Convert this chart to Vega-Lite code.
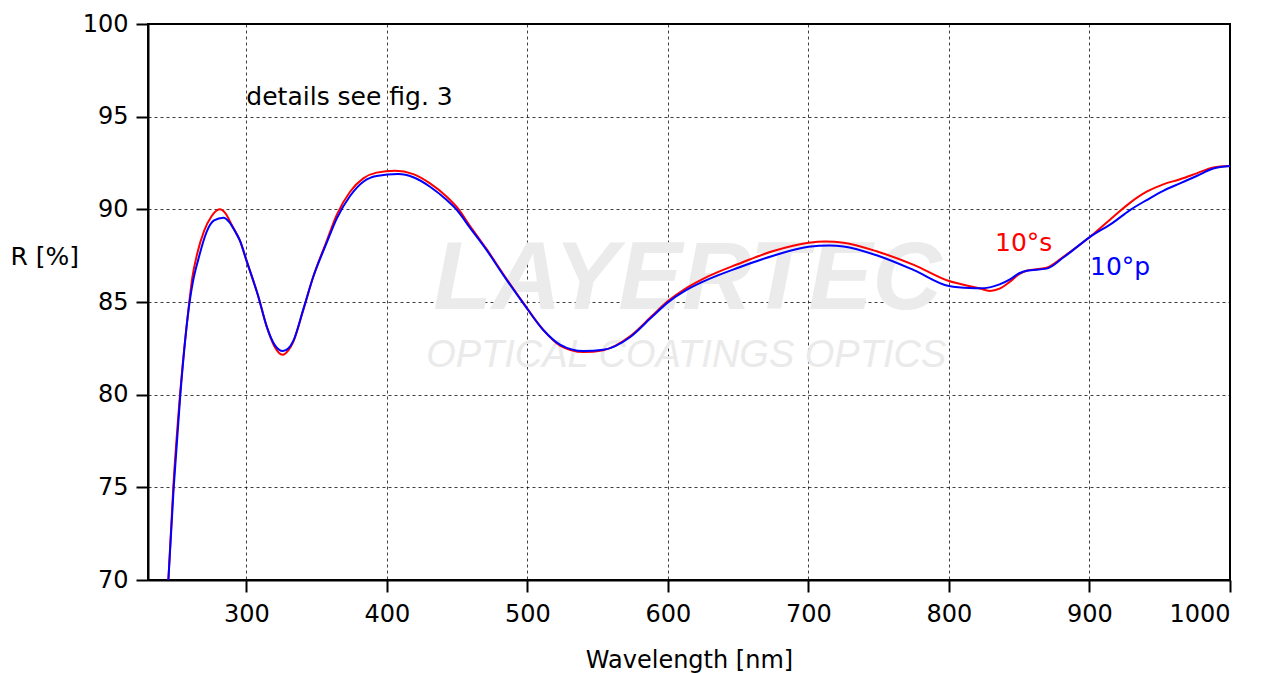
{
  "$schema": "https://vega.github.io/schema/vega-lite/v6.json",
  "width": 1082,
  "height": 556,
  "autosize": {"type": "none"},
  "padding": {"left": 148, "top": 24, "right": 45, "bottom": 93},
  "background": "white",
  "config": {
    "view": {"stroke": "black", "strokeWidth": 2},
    "font": "DejaVu Sans",
    "axis": {
      "labelFont": "DejaVu Sans", "labelFontSize": 24, "labelColor": "black",
      "titleFont": "DejaVu Sans", "titleFontSize": 24, "titleFontWeight": "normal", "titleColor": "black",
      "tickColor": "black", "tickSize": 12, "tickWidth": 2,
      "domainColor": "black", "domainWidth": 2,
      "grid": true, "gridColor": "black", "gridDash": [3, 3], "gridOpacity": 0.75, "gridWidth": 1
    }
  },
  "datasets": {
    "curves": [
      {"wl": 244.5, "R": 70, "pol": "10°s"},
      {"wl": 248, "R": 75, "pol": "10°s"},
      {"wl": 252.8, "R": 80, "pol": "10°s"},
      {"wl": 259.4, "R": 85, "pol": "10°s"},
      {"wl": 261.5, "R": 86.3, "pol": "10°s"},
      {"wl": 265, "R": 87.6, "pol": "10°s"},
      {"wl": 270, "R": 88.85, "pol": "10°s"},
      {"wl": 275, "R": 89.6, "pol": "10°s"},
      {"wl": 281, "R": 90.0, "pol": "10°s"},
      {"wl": 285, "R": 89.8, "pol": "10°s"},
      {"wl": 290, "R": 89.1, "pol": "10°s"},
      {"wl": 295.5, "R": 88.3, "pol": "10°s"},
      {"wl": 300, "R": 87.26, "pol": "10°s"},
      {"wl": 308.5, "R": 85.3, "pol": "10°s"},
      {"wl": 314.5, "R": 83.67, "pol": "10°s"},
      {"wl": 320, "R": 82.6, "pol": "10°s"},
      {"wl": 325.8, "R": 82.15, "pol": "10°s"},
      {"wl": 330, "R": 82.4, "pol": "10°s"},
      {"wl": 333.4, "R": 82.85, "pol": "10°s"},
      {"wl": 340.5, "R": 84.57, "pol": "10°s"},
      {"wl": 347.6, "R": 86.36, "pol": "10°s"},
      {"wl": 357.2, "R": 88.3, "pol": "10°s"},
      {"wl": 364.3, "R": 89.7, "pol": "10°s"},
      {"wl": 373.8, "R": 90.95, "pol": "10°s"},
      {"wl": 383.2, "R": 91.67, "pol": "10°s"},
      {"wl": 392.7, "R": 91.98, "pol": "10°s"},
      {"wl": 405.8, "R": 92.08, "pol": "10°s"},
      {"wl": 418.8, "R": 91.9, "pol": "10°s"},
      {"wl": 430.7, "R": 91.4, "pol": "10°s"},
      {"wl": 442.6, "R": 90.68, "pol": "10°s"},
      {"wl": 450, "R": 90.1, "pol": "10°s"},
      {"wl": 459.2, "R": 89.1, "pol": "10°s"},
      {"wl": 471, "R": 87.85, "pol": "10°s"},
      {"wl": 482.9, "R": 86.5, "pol": "10°s"},
      {"wl": 497.1, "R": 84.95, "pol": "10°s"},
      {"wl": 511.3, "R": 83.5, "pol": "10°s"},
      {"wl": 523.2, "R": 82.65, "pol": "10°s"},
      {"wl": 539.8, "R": 82.3, "pol": "10°s"},
      {"wl": 554, "R": 82.4, "pol": "10°s"},
      {"wl": 573, "R": 83.15, "pol": "10°s"},
      {"wl": 588, "R": 84.2, "pol": "10°s"},
      {"wl": 600, "R": 85.05, "pol": "10°s"},
      {"wl": 612, "R": 85.7, "pol": "10°s"},
      {"wl": 625, "R": 86.25, "pol": "10°s"},
      {"wl": 650, "R": 87.05, "pol": "10°s"},
      {"wl": 675, "R": 87.75, "pol": "10°s"},
      {"wl": 700, "R": 88.2, "pol": "10°s"},
      {"wl": 712, "R": 88.27, "pol": "10°s"},
      {"wl": 725, "R": 88.2, "pol": "10°s"},
      {"wl": 750, "R": 87.7, "pol": "10°s"},
      {"wl": 775, "R": 87.0, "pol": "10°s"},
      {"wl": 800, "R": 86.13, "pol": "10°s"},
      {"wl": 815, "R": 85.85, "pol": "10°s"},
      {"wl": 822, "R": 85.73, "pol": "10°s"},
      {"wl": 829, "R": 85.6, "pol": "10°s"},
      {"wl": 836, "R": 85.72, "pol": "10°s"},
      {"wl": 843.4, "R": 86.1, "pol": "10°s"},
      {"wl": 850, "R": 86.5, "pol": "10°s"},
      {"wl": 855.3, "R": 86.69, "pol": "10°s"},
      {"wl": 869.5, "R": 86.85, "pol": "10°s"},
      {"wl": 881.4, "R": 87.44, "pol": "10°s"},
      {"wl": 900, "R": 88.49, "pol": "10°s"},
      {"wl": 917, "R": 89.6, "pol": "10°s"},
      {"wl": 928.8, "R": 90.35, "pol": "10°s"},
      {"wl": 940.7, "R": 90.95, "pol": "10°s"},
      {"wl": 952.5, "R": 91.35, "pol": "10°s"},
      {"wl": 964.4, "R": 91.62, "pol": "10°s"},
      {"wl": 976.3, "R": 91.94, "pol": "10°s"},
      {"wl": 988.1, "R": 92.26, "pol": "10°s"},
      {"wl": 1000, "R": 92.34, "pol": "10°s"},
      {"wl": 244.5, "R": 70, "pol": "10°p"},
      {"wl": 248.3, "R": 75, "pol": "10°p"},
      {"wl": 253, "R": 80, "pol": "10°p"},
      {"wl": 259.6, "R": 85, "pol": "10°p"},
      {"wl": 262, "R": 86.1, "pol": "10°p"},
      {"wl": 265.8, "R": 87.3, "pol": "10°p"},
      {"wl": 271.8, "R": 88.8, "pol": "10°p"},
      {"wl": 277, "R": 89.4, "pol": "10°p"},
      {"wl": 283.6, "R": 89.55, "pol": "10°p"},
      {"wl": 288, "R": 89.3, "pol": "10°p"},
      {"wl": 292, "R": 88.8, "pol": "10°p"},
      {"wl": 295.5, "R": 88.3, "pol": "10°p"},
      {"wl": 300, "R": 87.26, "pol": "10°p"},
      {"wl": 308.5, "R": 85.3, "pol": "10°p"},
      {"wl": 314.5, "R": 83.67, "pol": "10°p"},
      {"wl": 320, "R": 82.7, "pol": "10°p"},
      {"wl": 326, "R": 82.35, "pol": "10°p"},
      {"wl": 330, "R": 82.5, "pol": "10°p"},
      {"wl": 333.4, "R": 82.9, "pol": "10°p"},
      {"wl": 340.5, "R": 84.6, "pol": "10°p"},
      {"wl": 347.6, "R": 86.36, "pol": "10°p"},
      {"wl": 357.2, "R": 88.2, "pol": "10°p"},
      {"wl": 364.3, "R": 89.5, "pol": "10°p"},
      {"wl": 373.8, "R": 90.72, "pol": "10°p"},
      {"wl": 383.2, "R": 91.49, "pol": "10°p"},
      {"wl": 392.7, "R": 91.8, "pol": "10°p"},
      {"wl": 408, "R": 91.9, "pol": "10°p"},
      {"wl": 418.8, "R": 91.73, "pol": "10°p"},
      {"wl": 430.7, "R": 91.22, "pol": "10°p"},
      {"wl": 442.6, "R": 90.5, "pol": "10°p"},
      {"wl": 450, "R": 89.95, "pol": "10°p"},
      {"wl": 459.2, "R": 89.0, "pol": "10°p"},
      {"wl": 471, "R": 87.8, "pol": "10°p"},
      {"wl": 482.9, "R": 86.45, "pol": "10°p"},
      {"wl": 497.1, "R": 84.93, "pol": "10°p"},
      {"wl": 511.3, "R": 83.49, "pol": "10°p"},
      {"wl": 523.2, "R": 82.7, "pol": "10°p"},
      {"wl": 539.8, "R": 82.35, "pol": "10°p"},
      {"wl": 554, "R": 82.42, "pol": "10°p"},
      {"wl": 573, "R": 83.1, "pol": "10°p"},
      {"wl": 588, "R": 84.15, "pol": "10°p"},
      {"wl": 600, "R": 84.98, "pol": "10°p"},
      {"wl": 612, "R": 85.6, "pol": "10°p"},
      {"wl": 625, "R": 86.1, "pol": "10°p"},
      {"wl": 650, "R": 86.85, "pol": "10°p"},
      {"wl": 675, "R": 87.5, "pol": "10°p"},
      {"wl": 700, "R": 87.98, "pol": "10°p"},
      {"wl": 715, "R": 88.05, "pol": "10°p"},
      {"wl": 725, "R": 88.0, "pol": "10°p"},
      {"wl": 750, "R": 87.48, "pol": "10°p"},
      {"wl": 775, "R": 86.72, "pol": "10°p"},
      {"wl": 800, "R": 85.86, "pol": "10°p"},
      {"wl": 815, "R": 85.75, "pol": "10°p"},
      {"wl": 822, "R": 85.74, "pol": "10°p"},
      {"wl": 829, "R": 85.79, "pol": "10°p"},
      {"wl": 836, "R": 85.95, "pol": "10°p"},
      {"wl": 843.4, "R": 86.22, "pol": "10°p"},
      {"wl": 850, "R": 86.55, "pol": "10°p"},
      {"wl": 855.3, "R": 86.69, "pol": "10°p"},
      {"wl": 869.5, "R": 86.8, "pol": "10°p"},
      {"wl": 881.4, "R": 87.4, "pol": "10°p"},
      {"wl": 900, "R": 88.49, "pol": "10°p"},
      {"wl": 917, "R": 89.3, "pol": "10°p"},
      {"wl": 928.8, "R": 89.96, "pol": "10°p"},
      {"wl": 940.7, "R": 90.5, "pol": "10°p"},
      {"wl": 952.5, "R": 91.0, "pol": "10°p"},
      {"wl": 964.4, "R": 91.4, "pol": "10°p"},
      {"wl": 976.3, "R": 91.8, "pol": "10°p"},
      {"wl": 988.1, "R": 92.2, "pol": "10°p"},
      {"wl": 1000, "R": 92.34, "pol": "10°p"}
    ],
    "labels": [
      {"wl": 300, "R": 96.05, "text": "details see fig. 3", "kind": "note"},
      {"wl": 832.8, "R": 88.18, "text": "10°s", "kind": "10°s"},
      {"wl": 900.4, "R": 86.89, "text": "10°p", "kind": "10°p"}
    ],
    "watermark": [
      {"wl": 614, "R": 86.2, "text": "LAYERTEC", "kind": "big"},
      {"wl": 613, "R": 82.1, "text": "OPTICAL COATINGS  OPTICS", "kind": "small"}
    ]
  },
  "layer": [
    {
      "data": {"name": "watermark"},
      "transform": [{"filter": "datum.kind == 'big'"}],
      "mark": {"type": "text", "font": "Liberation Sans", "fontSize": 96, "fontWeight": "bold", "fontStyle": "italic", "color": "#ebebeb", "align": "center", "baseline": "middle"},
      "encoding": {
        "x": {"field": "wl", "type": "quantitative"},
        "y": {"field": "R", "type": "quantitative"},
        "text": {"field": "text"}
      }
    },
    {
      "data": {"name": "watermark"},
      "transform": [{"filter": "datum.kind == 'small'"}],
      "mark": {"type": "text", "font": "Liberation Sans", "fontSize": 38, "fontStyle": "italic", "color": "#eaeaea", "align": "center", "baseline": "middle"},
      "encoding": {
        "x": {"field": "wl", "type": "quantitative"},
        "y": {"field": "R", "type": "quantitative"},
        "text": {"field": "text"}
      }
    },
    {
      "data": {"name": "curves"},
      "mark": {"type": "line", "interpolate": "monotone", "strokeWidth": 2, "clip": true},
      "encoding": {
        "x": {
          "field": "wl", "type": "quantitative",
          "scale": {"domain": [230, 1000], "nice": false, "zero": false},
          "axis": {"values": [300, 400, 500, 600, 700, 800, 900, 1000], "format": "d", "title": "Wavelength [nm]", "labelPadding": 10, "titlePadding": 22}
        },
        "y": {
          "field": "R", "type": "quantitative",
          "scale": {"domain": [70, 100], "nice": false, "zero": false},
          "axis": {"values": [70, 75, 80, 85, 90, 95, 100], "format": "d", "title": "R [%]", "titleAngle": 0, "titleAlign": "left", "titleBaseline": "middle", "titleX": -138, "titleY": 232, "titleFontSize": 25, "labelPadding": 8}
        },
        "color": {"field": "pol", "type": "nominal", "scale": {"domain": ["10°s", "10°p"], "range": ["#ff0000", "#0000ff"]}, "legend": null}
      }
    },
    {
      "data": {"name": "labels"},
      "mark": {"type": "text", "font": "DejaVu Sans", "align": "left", "baseline": "middle"},
      "encoding": {
        "x": {"field": "wl", "type": "quantitative"},
        "y": {"field": "R", "type": "quantitative"},
        "text": {"field": "text"},
        "size": {"field": "kind", "type": "nominal", "scale": {"domain": ["note", "10°s", "10°p"], "range": [25, 25, 25]}, "legend": null},
        "color": {"field": "kind", "type": "nominal", "scale": {"domain": ["note", "10°s", "10°p"], "range": ["#000000", "#ff0000", "#0000ff"]}, "legend": null}
      }
    }
  ],
  "resolve": {"scale": {"color": "independent", "size": "independent"}}
}
